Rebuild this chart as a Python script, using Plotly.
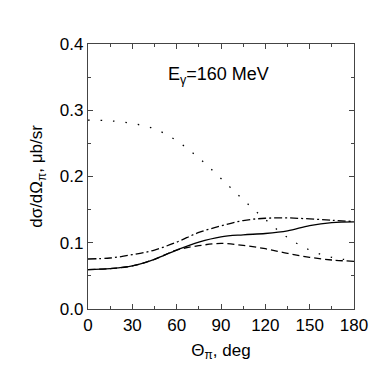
import plotly.graph_objects as go

theta = [0, 15, 30, 45, 60, 75, 90, 105, 120, 135, 150, 165, 180]
solid = [0.0595, 0.061, 0.065, 0.075, 0.089, 0.101, 0.109, 0.112, 0.114, 0.118, 0.126, 0.1305, 0.1315]
dashed = [0.0595, 0.061, 0.065, 0.075, 0.089, 0.0955, 0.099, 0.096, 0.091, 0.084, 0.078, 0.074, 0.072]
dashdot = [0.0755, 0.077, 0.082, 0.089, 0.101, 0.1155, 0.1255, 0.1335, 0.137, 0.1375, 0.136, 0.134, 0.132]
dotted = [0.285, 0.284, 0.280, 0.272, 0.254, 0.228, 0.197, 0.165, 0.135, 0.108, 0.089, 0.078, 0.073]

fig = go.Figure()
styles = [(solid, "solid"), (dashed, "7px,4px"), (dashdot, "8px,3px,2px,3px"), (dotted, "1.5px,11px")]
for ys, d in styles:
    fig.add_trace(go.Scatter(x=theta, y=ys, mode="lines",
                             line=dict(color="black", width=1.3, dash=d, shape="spline"),
                             showlegend=False))

tick_font = dict(family="Liberation Sans, Arial", size=17, color="black")
title_font = dict(family="Liberation Sans, Arial", size=17, color="black")
common = dict(showline=True, linecolor="#444", linewidth=1.2, mirror="allticks",
              ticks="inside", ticklen=5, tickcolor="#444", showgrid=False,
              zeroline=False, tickfont=tick_font)

fig.update_xaxes(range=[0, 180], tickvals=[0, 30, 60, 90, 120, 150, 180],
                 minor=dict(dtick=15, ticks="inside", ticklen=3, tickcolor="#444"),
                 title=dict(text="Θ<sub>π</sub>, deg", font=title_font, standoff=10), **common)
fig.update_yaxes(range=[0, 0.4], tickvals=[0, 0.1, 0.2, 0.3, 0.4], tickformat=".1f",
                 minor=dict(dtick=0.05, ticks="inside", ticklen=3, tickcolor="#444"),
                 title=dict(text="dσ/dΩ<sub>π</sub>, μb/sr", font=title_font, standoff=12), **common)

fig.add_annotation(x=88, y=0.352, xref="x", yref="y", showarrow=False,
                   text="E<sub>γ</sub>=160 MeV",
                   font=dict(family="Liberation Sans, Arial", size=18, color="black"))

fig.update_layout(width=391, height=381, plot_bgcolor="white", paper_bgcolor="white",
                  margin=dict(l=80, r=45, t=36, b=80))
fig.write_html("out.html")
